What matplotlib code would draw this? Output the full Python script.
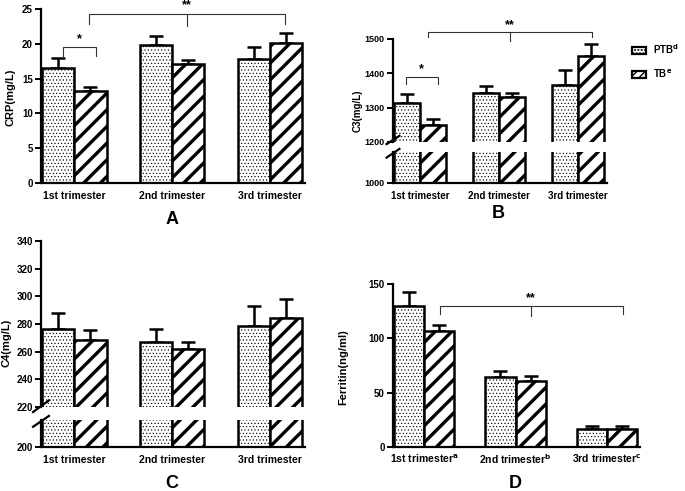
import matplotlib
matplotlib.use("Agg")
import matplotlib.pyplot as plt
from matplotlib.patches import Patch
import numpy as np

plt.rcParams['font.family'] = ['Liberation Sans', 'DejaVu Sans']
plt.rcParams['font.weight'] = 'bold'
plt.rcParams['axes.labelweight'] = 'bold'
plt.rcParams['hatch.color'] = 'black'
plt.rcParams['mathtext.default'] = 'bf'

groups = ['1st trimester', '2nd trimester', '3rd trimester']
groups_d = [r'1st trimester$^{\mathrm{a}}$', r'2nd trimester$^{\mathrm{b}}$',
            r'3rd trimester$^{\mathrm{c}}$']

# A: CRP (mg/L)
crp_ptb = [16.5, 19.8, 17.8]
crp_ptb_err = [1.4, 1.3, 1.8]
crp_tb = [13.2, 17.1, 20.1]
crp_tb_err = [0.6, 0.6, 1.4]

# B: C3 (mg/L)
c3_ptb = [1314, 1343, 1366]
c3_ptb_err = [27, 21, 43]
c3_tb = [1249, 1332, 1451]
c3_tb_err = [17, 12, 34]

# C: C4 (mg/L)
c4_ptb = [276.6, 267.0, 278.6]
c4_ptb_err = [11.0, 9.5, 14.5]
c4_tb = [268.5, 262.0, 284.3]
c4_tb_err = [7.0, 5.0, 14.0]

# D: Ferritin (ng/ml)
fer_ptb = [129.5, 64.3, 16.6]
fer_ptb_err = [12.8, 6.0, 3.0]
fer_tb = [106.5, 61.0, 16.9]
fer_tb_err = [6.2, 4.0, 2.7]

W, H = 685, 491
fig = plt.figure(figsize=(W / 100, H / 100), dpi=100)


def px(left, top, right, bottom):
    return [left / W, 1 - bottom / H, (right - left) / W, (bottom - top) / H]


BW = 0.33
x = np.arange(3)


def style(ax, bottom=True, ysize=7):
    for s in ['top', 'right']:
        ax.spines[s].set_visible(False)
    ax.spines['left'].set_linewidth(1.6)
    ax.spines['bottom'].set_linewidth(1.6)
    if not bottom:
        ax.spines['bottom'].set_visible(False)
    ax.tick_params(axis='y', direction='out', length=4, width=1.4, labelsize=ysize, pad=2)
    ax.tick_params(axis='x', length=0, labelsize=7.5, pad=6)
    ax.set_facecolor('none')


def bars(ax, ptb, ptb_err, tb, tb_err):
    b1 = ax.bar(x - BW / 2, ptb, BW, color='white', edgecolor='black',
                linewidth=1.8, hatch='.....', zorder=2)
    b2 = ax.bar(x + BW / 2, tb, BW, color='white', edgecolor='black',
                linewidth=1.8, hatch='//', zorder=2)
    for p in b1:
        if hasattr(p, 'set_hatch_linewidth'):
            p.set_hatch_linewidth(0.45)
    for p in b2:
        if hasattr(p, 'set_hatch_linewidth'):
            p.set_hatch_linewidth(2.4)
    for off, vals, err in [(-BW / 2, ptb, ptb_err), (BW / 2, tb, tb_err)]:
        ax.errorbar(x + off, vals, yerr=[np.zeros(3), err], fmt='none',
                    ecolor='black', elinewidth=1.8, capsize=5, capthick=1.8, zorder=1)


def bracket(ax, x0, x1, y, drop, mid=False, text='*', mid_drop=None):
    kw = dict(color='#333333', lw=0.8, clip_on=False)
    ax.plot([x0, x0, x1, x1], [y - drop, y, y, y - drop], **kw)
    if mid:
        xm = (x0 + x1) / 2
        ax.plot([xm, xm], [y, y - mid_drop], **kw)
    ax.text((x0 + x1) / 2, y + drop * 0.3, text, ha='center', va='bottom',
            fontsize=9, clip_on=False)


def ylab(xp, yp, text, size=8):
    fig.text(xp / W, 1 - yp / H, text, rotation=90, ha='center', va='center', fontsize=size)


# ---- Panel A ----
axA = fig.add_axes(px(41, 9, 305, 183))
bars(axA, crp_ptb, crp_ptb_err, crp_tb, crp_tb_err)
style(axA)
axA.set_ylim(0, 25)
axA.set_yticks([0, 5, 10, 15, 20, 25])
axA.set_xlim(-0.34, 2.36)
axA.set_xticks(x, groups)
ylab(11, 97, 'CRP(mg/L)')
bracket(axA, -0.12, 0.22, 19.5, 1.2, text='*')
bracket(axA, 0.15, 2.16, 24.3, 1.4, mid=True, text='**', mid_drop=1.8)
fig.text(172 / W, 1 - 220 / H, 'A', fontsize=13, ha='center', va='center')

# ---- Panel B ----
axBt = fig.add_axes(px(393, 39, 607, 142))
axBb = fig.add_axes(px(393, 152, 607, 183))
for ax in (axBt, axBb):
    bars(ax, c3_ptb, c3_ptb_err, c3_tb, c3_tb_err)
    ax.set_xlim(-0.34, 2.37)
style(axBt, bottom=False, ysize=6.5)
style(axBb, ysize=6.5)
axBt.set_ylim(1200, 1500)
axBt.set_yticks([1200, 1300, 1400, 1500])
axBt.set_xticks([])
axBb.set_ylim(1000, 1200)
axBb.set_yticks([1000])
axBb.set_xticks(x, groups)
axBb.tick_params(axis='x', labelsize=7)
ylab(358, 111, 'C3(mg/L)', size=7)
axBt.plot([-0.03, 0.03], [-0.02, 0.06], transform=axBt.transAxes,
          color='black', lw=1.6, clip_on=False)
axBb.plot([-0.03, 0.03], [0.82, 1.1], transform=axBb.transAxes,
          color='black', lw=1.6, clip_on=False)
bracket(axBt, -0.18, 0.23, 1390, 20, text='*')
bracket(axBt, 0.1, 2.18, 1519, 13, mid=True, text='**', mid_drop=26)
fig.legend(handles=[Patch(facecolor='white', edgecolor='black', hatch='.....', lw=1.6),
                    Patch(facecolor='white', edgecolor='black', hatch='////', lw=1.6)],
           labels=[r'PTB$^{\mathrm{d}}$', r'TB$^{\mathrm{e}}$'],
           loc='upper left', bbox_to_anchor=(628 / W, 1 - 38 / H), frameon=False,
           fontsize=7, handlelength=1.5, handleheight=0.8, labelspacing=1.2,
           handletextpad=0.7, borderaxespad=0)
fig.text(498 / W, 1 - 213 / H, 'B', fontsize=13, ha='center', va='center')

# ---- Panel C ----
axCt = fig.add_axes(px(41, 241, 305, 407))
axCb = fig.add_axes(px(41, 420, 305, 447))
for ax in (axCt, axCb):
    bars(ax, c4_ptb, c4_ptb_err, c4_tb, c4_tb_err)
    ax.set_xlim(-0.34, 2.36)
style(axCt, bottom=False)
style(axCb)
axCt.set_ylim(220, 340)
axCt.set_yticks([220, 240, 260, 280, 300, 320, 340])
axCt.set_xticks([])
axCb.set_ylim(200, 220)
axCb.set_yticks([200])
axCb.set_xticks(x, groups)
ylab(7, 343, 'C4(mg/L)')
axCt.plot([-0.03, 0.03], [-0.03, 0.04], transform=axCt.transAxes,
          color='black', lw=1.6, clip_on=False)
axCb.plot([-0.03, 0.03], [0.75, 1.15], transform=axCb.transAxes,
          color='black', lw=1.6, clip_on=False)
fig.text(172 / W, 1 - 483 / H, 'C', fontsize=13, ha='center', va='center')

# ---- Panel D ----
axD = fig.add_axes(px(393, 284, 640, 447))
bars(axD, fer_ptb, fer_ptb_err, fer_tb, fer_tb_err)
style(axD)
axD.set_ylim(0, 150)
axD.set_yticks([0, 50, 100, 150])
axD.set_xlim(-0.34, 2.36)
axD.set_xticks(x, groups_d)
axD.tick_params(axis='x', labelsize=7.5, pad=4)
ylab(343, 367, 'Ferritin(ng/ml)')
bracket(axD, 0.17, 2.17, 129.4, 7, mid=True, text='**', mid_drop=8.5)
fig.text(515 / W, 1 - 484 / H, 'D', fontsize=13, ha='center', va='center')

fig.savefig('out.png', dpi=100)
